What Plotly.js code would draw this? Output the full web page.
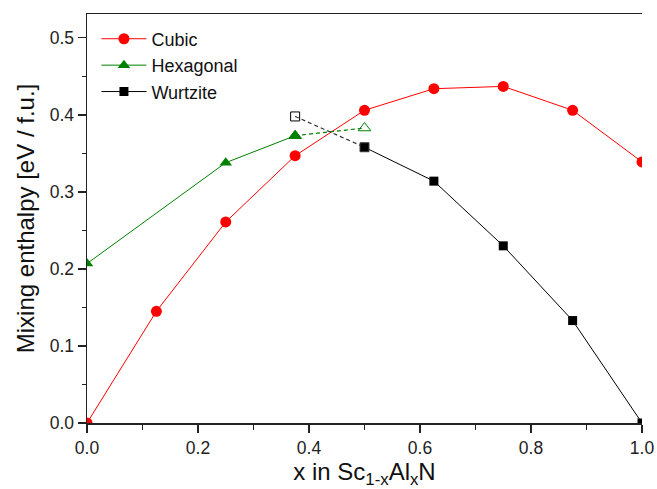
<!DOCTYPE html>
<html>
<head>
<meta charset="utf-8">
<script src="https://cdn.plot.ly/plotly-3.0.1.min.js"></script>
<style>
  html, body { margin: 0; padding: 0; background: #fff; }
  #chart { width: 657px; height: 489px; }
</style>
</head>
<body>
<div id="chart"></div>
<script>
// Composition x in Sc(1-x)Al(x)N
const cubicX = [0, 0.125, 0.25, 0.375, 0.5, 0.625, 0.75, 0.875, 1.0];
const cubicY = [0, 0.145, 0.261, 0.347, 0.406, 0.434, 0.437, 0.406, 0.339];

const hexX = [0, 0.25, 0.375];
const hexY = [0.207, 0.338, 0.373];
// metastable hexagonal point (open symbol, dashed link)
const hexExtraX = [0.5];
const hexExtraY = [0.383];

const wurtX = [0.5, 0.625, 0.75, 0.875, 1.0];
const wurtY = [0.358, 0.314, 0.230, 0.133, 0];
// metastable wurtzite point (open symbol, dashed link)
const wurtExtraX = [0.375];
const wurtExtraY = [0.398];

const xTicks = [0, 0.2, 0.4, 0.6, 0.8, 1.0];
const yTicks = [0, 0.1, 0.2, 0.3, 0.4, 0.5];

const FONT = 'Arial, "Liberation Sans", Helvetica, sans-serif';
const RED = '#ff0000', GREEN = '#008000', BLACK = '#000000';

const traces = [
  {
    name: 'Cubic', x: cubicX, y: cubicY, mode: 'lines+markers',
    line: { color: RED, width: 1 },
    marker: { symbol: 'circle', size: 11, color: RED }
  },
  {
    name: 'Hexagonal', x: hexX, y: hexY, mode: 'lines+markers',
    line: { color: GREEN, width: 1 },
    marker: { symbol: 'triangle-up', size: 11, color: GREEN }
  },
  {
    name: 'Hexagonal (dashed)', showlegend: false,
    x: [hexX[hexX.length - 1]].concat(hexExtraX),
    y: [hexY[hexY.length - 1]].concat(hexExtraY),
    mode: 'lines+markers',
    line: { color: GREEN, width: 1.2, dash: '4px,3px' },
    marker: { symbol: ['triangle-up', 'triangle-up-open'], size: 11, color: GREEN, line: { width: 1, color: GREEN } }
  },
  {
    name: 'Wurtzite', x: wurtX, y: wurtY, mode: 'lines+markers',
    line: { color: BLACK, width: 1 },
    marker: { symbol: 'square', size: 9, color: BLACK }
  },
  {
    name: 'Wurtzite (dashed)', showlegend: false,
    x: wurtExtraX.concat([wurtX[0]]),
    y: wurtExtraY.concat([wurtY[0]]),
    mode: 'lines+markers',
    line: { color: '#333', width: 1.2, dash: '4px,3px' },
    marker: { symbol: ['square-open', 'square'], size: 9, color: BLACK, line: { width: 1, color: '#444' } }
  }
];

const yRange = [0, 0.531];

const layout = {
  width: 657, height: 489,
  margin: { l: 87, r: 15, t: 14, b: 66 },
  paper_bgcolor: '#ffffff', plot_bgcolor: '#ffffff',
  font: { family: FONT, color: '#111' },
  showlegend: true,
  legend: {
    x: 0.017, y: 0.984, xanchor: 'left', yanchor: 'top',
    bgcolor: 'rgba(0,0,0,0)', borderwidth: 0,
    itemwidth: 45,
    font: { family: FONT, size: 18, color: '#111' },
    tracegroupgap: 0
  },
  xaxis: {
    range: [0, 1], tickvals: xTicks, ticktext: xTicks.map(v => v.toFixed(1)),
    ticks: 'outside', ticklen: 8, tickwidth: 1.2, tickcolor: '#222',
    minor: { dtick: 0.1, tick0: 0, ticks: 'outside', ticklen: 5, tickwidth: 1.2, tickcolor: '#222' },
    showline: true, linecolor: '#222', linewidth: 1.5, mirror: true,
    showgrid: false, zeroline: false,
    tickfont: { family: FONT, size: 17.5, color: '#222' },
    title: { text: 'x in Sc<sub>1-x</sub>Al<sub>x</sub>N', font: { family: FONT, size: 24, color: '#111' }, standoff: 6 }
  },
  yaxis: {
    range: yRange, tickvals: yTicks, ticktext: yTicks.map(v => v.toFixed(1)),
    ticks: 'outside', ticklen: 8, tickwidth: 1.2, tickcolor: '#222',
    minor: { dtick: 0.05, tick0: 0, ticks: 'outside', ticklen: 4, tickwidth: 1.2, tickcolor: '#222' },
    showline: true, linecolor: '#222', linewidth: 1.5,
    showgrid: false, zeroline: false,
    tickfont: { family: FONT, size: 17.5, color: '#222' },
    title: { text: 'Mixing enthalpy [eV / f.u.]', font: { family: FONT, size: 24, color: '#111' }, standoff: 8 }
  },
  // right-hand frame with inward ticks
  yaxis2: {
    overlaying: 'y', side: 'right', anchor: 'x',
    range: yRange, dtick: 0.05, tick0: 0,
    ticks: 'inside', ticklen: 5, tickwidth: 1.2, tickcolor: '#222',
    showticklabels: false, showline: true, linecolor: '#222', linewidth: 1.5,
    showgrid: false, zeroline: false
  }
};

Plotly.newPlot('chart', traces, layout, { displayModeBar: false, staticPlot: true });
</script>
</body>
</html>
